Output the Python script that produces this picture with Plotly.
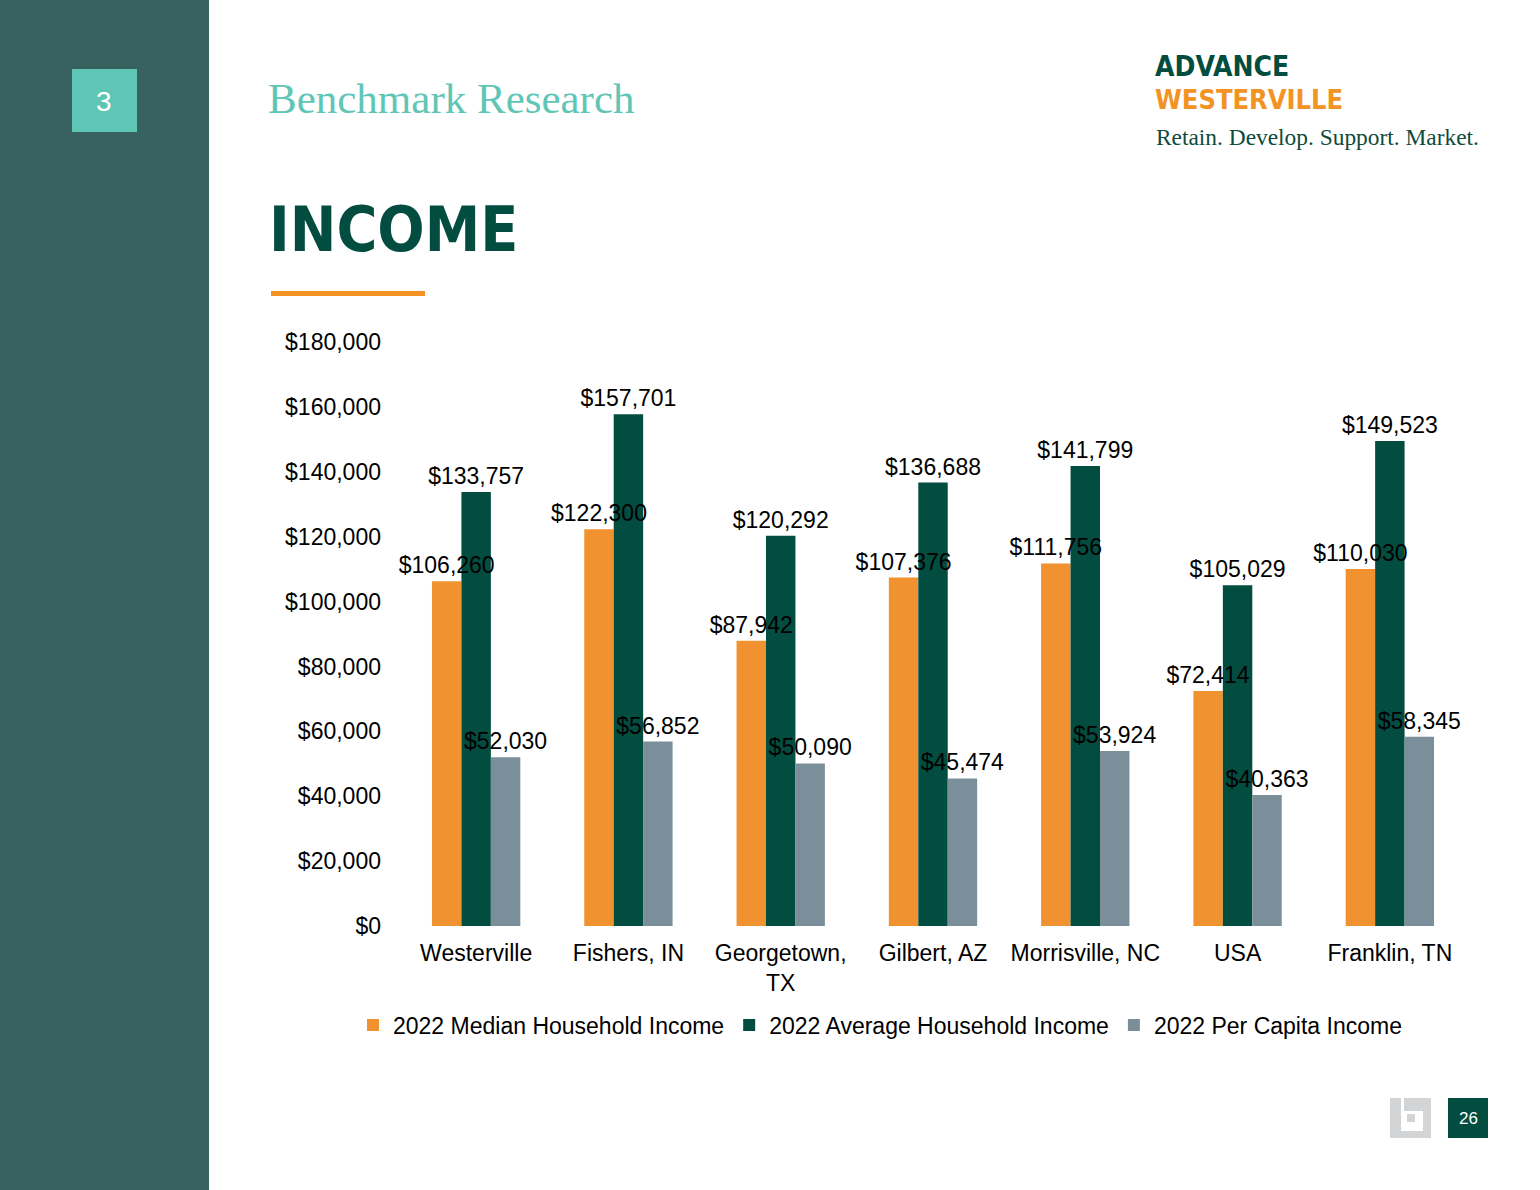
import plotly.graph_objects as go

W, H = 1540, 1190

categories = ["Westerville", "Fishers, IN", "Georgetown,<br>TX", "Gilbert, AZ",
              "Morrisville, NC", "USA", "Franklin, TN"]
median_income = [106260, 122300, 87942, 107376, 111756, 72414, 110030]
average_income = [133757, 157701, 120292, 136688, 141799, 105029, 149523]
per_capita_income = [52030, 56852, 50090, 45474, 53924, 40363, 58345]
series_names = ["2022 Median Household Income", "2022 Average Household Income",
                "2022 Per Capita Income"]
y_ticks = [0, 20000, 40000, 60000, 80000, 100000, 120000, 140000, 160000, 180000]
y_tick_labels = [f"${v:,}" for v in y_ticks]

ORANGE = "#F0922F"
DKGREEN = "#024D40"
GRAY = "#7A8F99"
SIDEBAR = "#37625F"
TEAL = "#5FC6B6"
FONT = "Liberation Sans, Arial, sans-serif"
NARROW = "Liberation Sans Narrow, DejaVu Sans Condensed, Arial Narrow, sans-serif"
SERIF = "Liberation Serif, DejaVu Serif, Georgia, serif"
FS = 23


def px(x):
    return x / W


def py(y):
    return 1 - y / H


fig = go.Figure()
all_series = [median_income, average_income, per_capita_income]
colors = [ORANGE, DKGREEN, GRAY]
for i, (name, vals, col) in enumerate(zip(series_names, all_series, colors)):
    fig.add_trace(go.Bar(
        x=categories, y=vals, name=name, offsetgroup=str(i),
        marker=dict(color=col, line=dict(width=0)), hoverinfo="skip",
    ))
# label layer drawn above every bar (transparent bars sharing each offset group)
for i, vals in enumerate(all_series):
    fig.add_trace(go.Bar(
        x=categories, y=vals, offsetgroup=str(i), showlegend=False, hoverinfo="skip",
        marker=dict(color="rgba(0,0,0,0)", line=dict(width=28, color="rgba(0,0,0,0)")),
        text=[f"${v:,}" for v in vals], textposition="outside", cliponaxis=False,
        constraintext="none", textfont=dict(family=FONT, size=FS, color="#000000"),
    ))

fig.update_layout(
    width=W, height=H, margin=dict(l=0, r=0, t=0, b=0, autoexpand=False),
    paper_bgcolor="white", plot_bgcolor="white",
    barmode="group", bargap=0.42, bargroupgap=0,
    font=dict(family=FONT, size=FS, color="#000000"),
    xaxis=dict(domain=[px(400), px(1466)], showgrid=False, showline=False, ticks="",
               automargin=False, ticklabelstandoff=11,
               tickfont=dict(size=FS, color="#000000"), fixedrange=True),
    yaxis=dict(domain=[py(926), py(342)], range=[0, 180000], tickvals=y_ticks,
               ticktext=y_tick_labels, showgrid=False, showline=False, automargin=False,
               zeroline=False, ticks="", ticklabelstandoff=18,
               tickfont=dict(size=FS, color="#000000")),
    legend=dict(orientation="h", x=px(880), xanchor="center", y=py(1025), yanchor="middle",
                font=dict(size=FS, color="#000000"), itemwidth=30, traceorder="normal"),
    showlegend=True,
)

shapes = [
    dict(type="rect", x0=0, x1=px(209), y0=0, y1=1, fillcolor=SIDEBAR, line=dict(width=0)),
    dict(type="rect", x0=px(72), x1=px(137), y0=py(132), y1=py(69), fillcolor=TEAL, line=dict(width=0)),
    dict(type="rect", x0=px(271), x1=px(425), y0=py(296), y1=py(291), fillcolor="#F39323", line=dict(width=0)),
    # bottom icon
    dict(type="rect", x0=px(1390), x1=px(1431), y0=py(1138), y1=py(1098), fillcolor="#D3D4D5", line=dict(width=0)),
    dict(type="rect", x0=px(1401), x1=px(1423), y0=py(1131), y1=py(1111), fillcolor="white", line=dict(width=0)),
    dict(type="rect", x0=px(1401), x1=px(1404), y0=py(1111), y1=py(1098), fillcolor="white", line=dict(width=0)),
    dict(type="rect", x0=px(1407), x1=px(1415), y0=py(1122), y1=py(1114), fillcolor="#D3D4D5", line=dict(width=0)),
    dict(type="rect", x0=px(1448), x1=px(1488), y0=py(1138), y1=py(1098), fillcolor="#024D40", line=dict(width=0)),
]
for s in shapes:
    s.update(xref="paper", yref="paper", layer="below")
fig.update_layout(shapes=shapes)

annotations = [
    dict(text="3", x=px(104.5), y=py(101), xanchor="center", yanchor="middle",
         font=dict(family=FONT, size=28, color="white")),
    dict(text="Benchmark Research", x=px(266), y=py(98), xanchor="left", yanchor="middle",
         font=dict(family=SERIF, size=43, color=TEAL)),
    dict(text="<b>INCOME</b>", x=px(267), y=py(230), xanchor="left", yanchor="middle",
         font=dict(family=NARROW, size=62, color="#024D40")),
    dict(text="<b>ADVANCE</b>", x=px(1153), y=py(66), xanchor="left", yanchor="middle",
         font=dict(family=NARROW, size=28, color="#024D40")),
    dict(text="<b>WESTERVILLE</b>", x=px(1153), y=py(99), xanchor="left", yanchor="middle",
         font=dict(family=NARROW, size=27, color="#F39323")),
    dict(text="Retain. Develop. Support. Market.", x=px(1154), y=py(137), xanchor="left",
         yanchor="middle", font=dict(family=SERIF, size=23.4, color="#0E4B3E")),
    dict(text="26", x=px(1468), y=py(1118), xanchor="center", yanchor="middle",
         font=dict(family=FONT, size=17, color="white")),
]
for a in annotations:
    a.update(xref="paper", yref="paper", showarrow=False)
fig.update_layout(annotations=annotations)

fig.write_html("out.html")
